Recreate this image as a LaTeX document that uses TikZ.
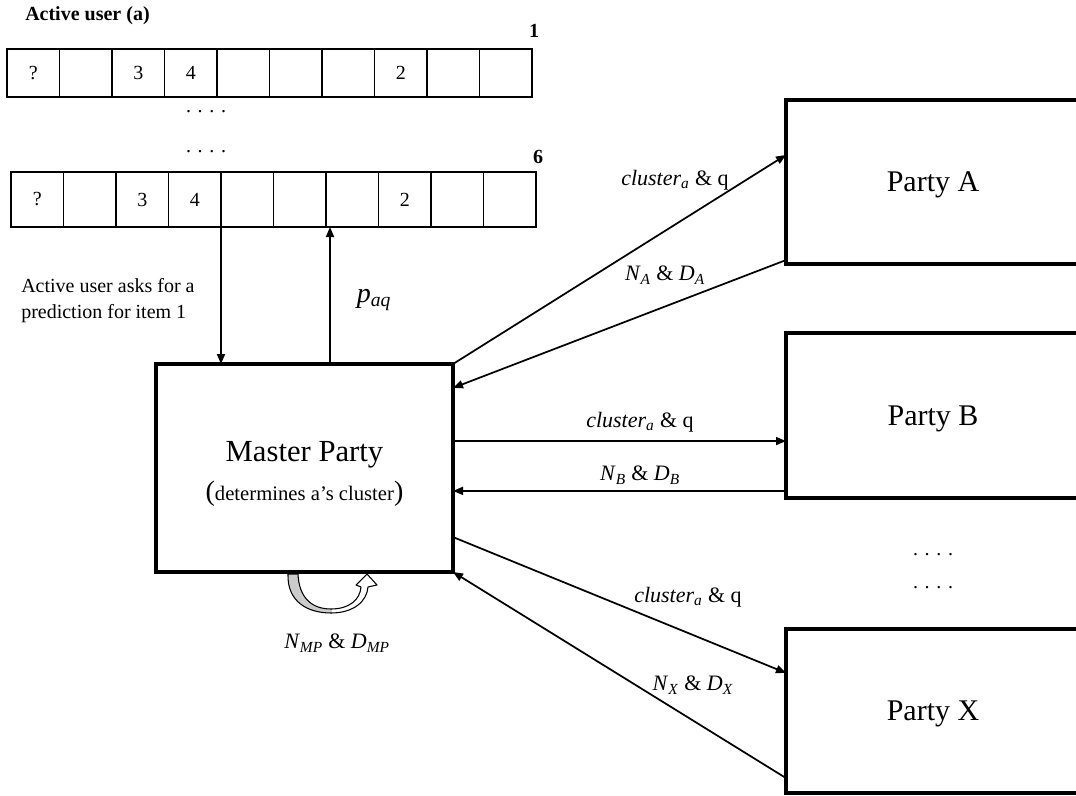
\documentclass[tikz,border=0pt]{standalone}
\usepackage{fontspec}
\setmainfont{Liberation Serif}
\usetikzlibrary{arrows.meta,calc}

\begin{document}
\begin{tikzpicture}[x=0.75pt,y=-0.75pt,
  cell/.style={draw, line width=1pt, minimum width=52.5*0.75pt, inner sep=0pt, outer sep=0pt,
    font=\fontsize{15}{18}\selectfont},
  mbox/.style={draw, line width=2.4pt, minimum width=297*0.75pt, minimum height=208*0.75pt,
    inner sep=0pt, outer sep=0pt},
  pbox/.style={draw, line width=2.4pt, minimum width=294*0.75pt, minimum height=164*0.75pt,
    inner sep=0pt, outer sep=0pt, text depth=0pt, font=\fontsize{22.5}{26}\selectfont},
  conn/.style={line width=1.3pt, -{Triangle[length=7.5pt,width=6pt]}},
  lbl/.style={inner sep=0pt, font=\fontsize{16.5}{19}\selectfont},
  plain/.style={inner sep=0pt, font=\fontsize{15}{18}\selectfont},
  boldlbl/.style={inner sep=0pt, font=\fontsize{15}{18}\selectfont\bfseries},
  uturnband/.style={insert path={
    (288,574) .. controls (287,602) and (308,613) .. (331,613)
    .. controls (354,613) and (367,601) .. (368,587)
    -- (377,585) -- (367,574) -- (356,585) -- (361,587)
    .. controls (360,600) and (349,609) .. (331,609)
    .. controls (311,609) and (299,597) .. (298,574) -- cycle}}
]
\useasboundingbox (0,0) rectangle (1076,796);
\clip (0,0) rectangle (1076,796);

% rating vector of the active user, first row
\node[boldlbl, anchor=base west] (title) at (25,21) {Active user (a)};
\foreach \i/\t in {1/?,2/{},3/3,4/4,5/{},6/{},7/{},8/2,9/{},10/{}}
  \node[cell, minimum height=48*0.75pt] (ra\i) at ({7+(\i-0.5)*52.5},73) {\t};
\node[boldlbl, anchor=base] (n1) at (534,37) {1};

% elided rows
\node[plain, anchor=base] (dots1) at (206,112) {.\,\,.\,\,.\,\,.};
\node[plain, anchor=base] (dots2) at (206,152) {.\,\,.\,\,.\,\,.};

% last row
\foreach \i/\t in {1/?,2/{},3/3,4/4,5/{},6/{},7/{},8/2,9/{},10/{}}
  \node[cell, minimum height=55*0.75pt] (rb\i) at ({11+(\i-0.5)*52.5},199.5) {\t};
\node[boldlbl, anchor=base] (n6) at (538,163) {6};

% master party
\node[mbox] (master) at (304.5,468) {};
\node[anchor=base, inner sep=0pt, font=\fontsize{23}{26}\selectfont] (mtitle) at (304.5,461) {Master Party};
\node[anchor=base, inner sep=0pt, font=\fontsize{15.5}{18}\selectfont] (msub) at (304.5,500)
  {{\fontsize{21}{21}\selectfont(}determines a’s cluster{\fontsize{21}{21}\selectfont)}};

% request and prediction between user and master party
\coordinate (down) at (rb4.south east);
\draw[conn] (down) -- (down |- master.north);
\coordinate (up) at ($(master.north west)+(174,0)$);
\draw[conn] (up) -- (up |- rb6.south);
\node[plain, anchor=base west] (ask1) at (21,292) {Active user asks for a};
\node[plain, anchor=base west] (ask2) at (21,318) {prediction for item 1};
\node[inner sep=0pt, font=\fontsize{21}{24}\selectfont] (paq) at (374,300)
  {\textit{p}\textsubscript{\textit{aq}}};

% local computation of the master party
\fill[white, uturnband];
\begin{scope}
  \clip (280,570) rectangle (332,620);
  \fill[gray!40, uturnband];
\end{scope}
\draw[line width=0.8pt, line join=round, uturnband];
\node[lbl] (nmp) at (337,643)
  {\textit{N}\textsubscript{\textit{MP}} \& \textit{D}\textsubscript{\textit{MP}}};

% other parties
\node[pbox] (pa) at (933,182) {Party A};
\node[pbox, minimum height=165*0.75pt] (pb) at (933,415.5) {Party B};
\node[pbox] (px) at (933,711) {Party X};
\node[plain, anchor=base] (dots3) at (933,555) {.\,\,.\,\,.\,\,.};
\node[plain, anchor=base] (dots4) at (933,588) {.\,\,.\,\,.\,\,.};

% exchanges with party A
\draw[conn] (master.north east) -- ($(pa.north west)!0.335!(pa.south west)$);
\draw[conn] ($(pa.north west)!0.976!(pa.south west)$) -- ($(master.north east)!0.115!(master.south east)$);
\node[lbl] (la1) at (675,180) {\textit{cluster}\textsubscript{\textit{a}} \& q};
\node[lbl] (la2) at (665,275) {\textit{N}\textsubscript{\textit{A}} \& \textit{D}\textsubscript{\textit{A}}};

% exchanges with party B
\draw[conn] ($(master.north east)!0.37!(master.south east)$) -- ($(pb.north west)!0.655!(pb.south west)$);
\draw[conn] ($(pb.north west)!0.958!(pb.south west)$) -- ($(master.north east)!0.61!(master.south east)$);
\node[lbl] (lb1) at (640,422) {\textit{cluster}\textsubscript{\textit{a}} \& q};
\node[lbl] (lb2) at (640,475) {\textit{N}\textsubscript{\textit{B}} \& \textit{D}\textsubscript{\textit{B}}};

% exchanges with party X
\draw[conn] ($(master.north east)!0.832!(master.south east)$) -- ($(px.north west)!0.268!(px.south west)$);
\draw[conn] ($(px.north west)!0.909!(px.south west)$) -- (master.south east);
\node[lbl] (lx1) at (688,597) {\textit{cluster}\textsubscript{\textit{a}} \& q};
\node[lbl] (lx2) at (693,685) {\textit{N}\textsubscript{\textit{X}} \& \textit{D}\textsubscript{\textit{X}}};
\end{tikzpicture}
\end{document}
